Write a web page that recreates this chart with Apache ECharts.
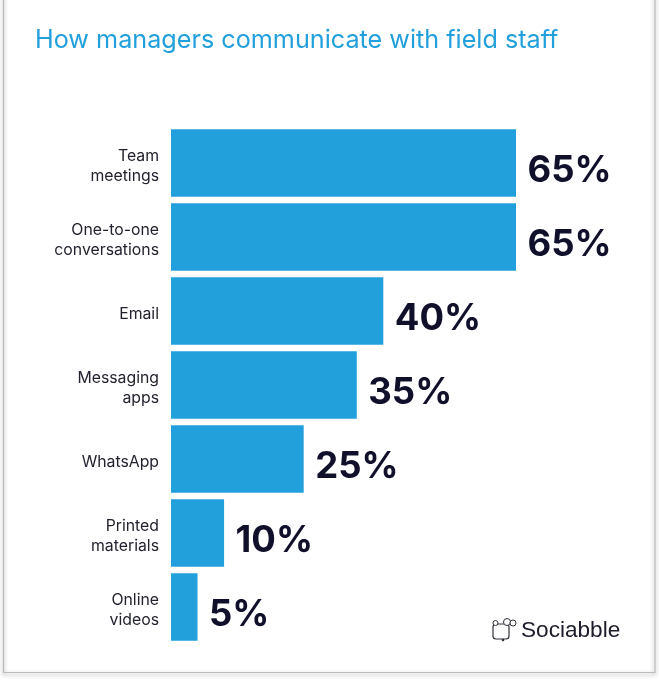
<!DOCTYPE html>
<html><head><meta charset="utf-8">
<style>html,body{margin:0;padding:0;background:#fff}#c{width:659px;height:680px}</style>
<script src="https://cdn.jsdelivr.net/npm/echarts@6/dist/echarts.min.js"></script></head>
<body><div id="c"></div>
<script>
const categories=["Team\nmeetings","One-to-one\nconversations","Email","Messaging\napps","WhatsApp","Printed\nmaterials","Online\nvideos"];
const values=[65,65,40,35,25,10,5];
const titleText="How managers communicate with field staff";
const brand="Sociabble";
const chart=echarts.init(document.getElementById('c'));
const labelStyle={color:'#23232f',fontSize:15.8,lineHeight:20,align:'right',fontFamily:'Inter'};
chart.setOption({
 animation:false,
 backgroundColor:'#fff',
 title:{text:titleText,left:30,top:23,textStyle:{color:'#22a0dc',fontSize:25.2,fontWeight:400,fontFamily:'Inter'}},
 grid:{left:171,top:126,width:345,height:518},
 xAxis:{type:'value',min:0,max:65,show:false},
 yAxis:{type:'category',inverse:true,data:categories,axisLine:{show:false},axisTick:{show:false},
  axisLabel:{margin:12,align:'right',
   formatter:v=>v.split('\n').map((s,i)=>(i===0?'{f|':'{a|')+s+'}').join('\n'),
   rich:{f:Object.assign({},labelStyle,{padding:[7,0,0,0]}),a:Object.assign({},labelStyle,{padding:[6,0,0,0]})}}},
 series:[{type:'bar',data:values,barCategoryGap:'9%',itemStyle:{color:'#22a0dc'},
  label:{show:true,position:'right',distance:11.5,offset:[0,8],formatter:'{c}%',color:'#10102a',fontSize:36.5,fontWeight:700,fontFamily:'Inter'}}],
 graphic:[
  {type:'rect',shape:{x:3.5,y:-10,width:651.5,height:682.5},style:{fill:'none',stroke:'#bcbcbc',lineWidth:1.2,shadowBlur:4,shadowOffsetY:2,shadowColor:'rgba(0,0,0,0.4)'}},
  {type:'text',left:521,top:619,style:{text:brand,fill:'#1c1c2a',fontSize:22.6,fontFamily:'Liberation Sans',fontWeight:400}},
  {type:'rect',shape:{x:493,y:624,width:16,height:15,r:3},style:{fill:'none',stroke:'#30303a',lineWidth:1.2}},
  {type:'circle',shape:{cx:495.5,cy:623,r:2.5},style:{fill:'#fff',stroke:'#30303a',lineWidth:1}},
  {type:'circle',shape:{cx:507,cy:622,r:3.5},style:{fill:'#fff',stroke:'#30303a',lineWidth:1}},
  {type:'circle',shape:{cx:513,cy:623,r:3},style:{fill:'#fff',stroke:'#30303a',lineWidth:1}},
  {type:'circle',shape:{cx:503,cy:640,r:1.3},style:{fill:'#30303a'}}
 ]
});
</script></body></html>
